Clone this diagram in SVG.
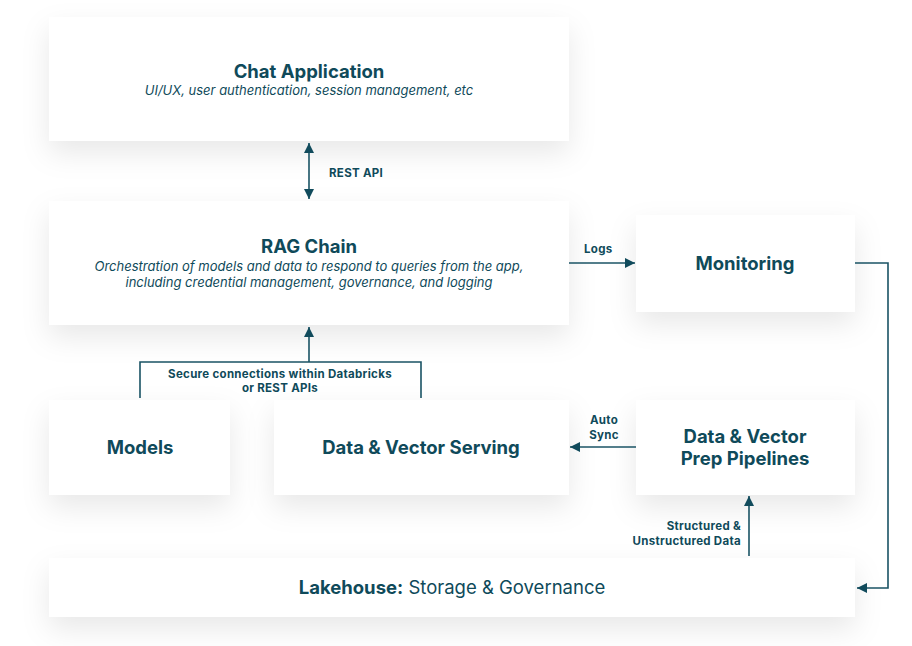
<svg xmlns="http://www.w3.org/2000/svg" width="912" height="646" viewBox="0 0 912 646">
<defs>
<filter id="sh" x="-20%" y="-30%" width="140%" height="180%">
<feDropShadow dx="0" dy="12" stdDeviation="14" flood-color="#000" flood-opacity="0.09"/>
</filter>
<marker id="ah" viewBox="0 0 10 10" refX="10" refY="5" markerWidth="10" markerHeight="10" markerUnits="userSpaceOnUse" orient="auto-start-reverse">
<path d="M0,0 L10,5 L0,10 z" fill="#114b5c"/>
</marker>
<style>
.box{fill:#fff;filter:url(#sh)}
.t{font-family:Inter,"Noto Sans",sans-serif;font-weight:700;font-size:18.5px;fill:#0f4a5a;text-anchor:middle}
.s{font-family:Inter,"Noto Sans",sans-serif;font-style:italic;font-size:13px;fill:#0f4a5a;text-anchor:middle}
.l{font-family:Inter,"Noto Sans",sans-serif;font-weight:700;font-size:11.5px;letter-spacing:0.3px;fill:#0f4a5a}
.c{fill:none;stroke:#1a5364;stroke-width:1.6}
</style>
</defs>
<rect width="912" height="646" fill="#fff"/>
<g id="chat"><rect class="box" x="49" y="17" width="520" height="124"/>
<text class="t" x="309" y="78">Chat Application</text>
<text class="s" x="309" y="95">UI/UX, user authentication, session management, etc</text></g>
<g id="rag"><rect class="box" x="49" y="201" width="520" height="124"/>
<text class="t" x="309" y="253">RAG Chain</text>
<text class="s" x="309" y="271">Orchestration of models and data to respond to queries from the app,</text>
<text class="s" x="309" y="287">including credential management, governance, and logging</text></g>
<g id="monitoring"><rect class="box" x="636" y="215" width="219" height="97"/>
<text class="t" x="745" y="270">Monitoring</text></g>
<g id="models"><rect class="box" x="49" y="400" width="181" height="95"/>
<text class="t" x="140" y="454">Models</text></g>
<g id="serving"><rect class="box" x="274" y="400" width="295" height="95"/>
<text class="t" x="421" y="454">Data &amp; Vector Serving</text></g>
<g id="prep"><rect class="box" x="636" y="400" width="219" height="95"/>
<text class="t" x="745" y="443">Data &amp; Vector</text>
<text class="t" x="745" y="465">Prep Pipelines</text></g>
<g id="lakehouse"><rect class="box" x="49" y="558" width="806" height="59"/>
<text class="t" x="452" y="594"><tspan>Lakehouse:</tspan><tspan font-weight="400"> Storage &amp; Governance</tspan></text></g>
<g id="connectors">
<line class="c" x1="309" y1="143" x2="309" y2="199" marker-start="url(#ah)" marker-end="url(#ah)"/>
<text class="l" x="329" y="177">REST API</text>
<line class="c" x1="569" y1="263" x2="635" y2="263" marker-end="url(#ah)"/>
<text class="l" x="584" y="253">Logs</text>
<path class="c" d="M140,398 V362 H421 V398"/>
<line class="c" x1="309" y1="362" x2="309" y2="327" marker-end="url(#ah)"/>
<text class="l" text-anchor="middle" x="280" y="378">Secure connections within Databricks</text>
<text class="l" text-anchor="middle" x="280" y="392">or REST APIs</text>
<line class="c" x1="636" y1="447" x2="570" y2="447" marker-end="url(#ah)"/>
<text class="l" text-anchor="middle" x="604" y="424">Auto</text>
<text class="l" text-anchor="middle" x="604" y="439">Sync</text>
<line class="c" x1="749" y1="556" x2="749" y2="496" marker-end="url(#ah)"/>
<text class="l" text-anchor="end" x="741" y="530">Structured &amp;</text>
<text class="l" text-anchor="end" x="741" y="545">Unstructured Data</text>
<path class="c" d="M855,263 H888 V588 H857" marker-end="url(#ah)"/>
</g>
</svg>
